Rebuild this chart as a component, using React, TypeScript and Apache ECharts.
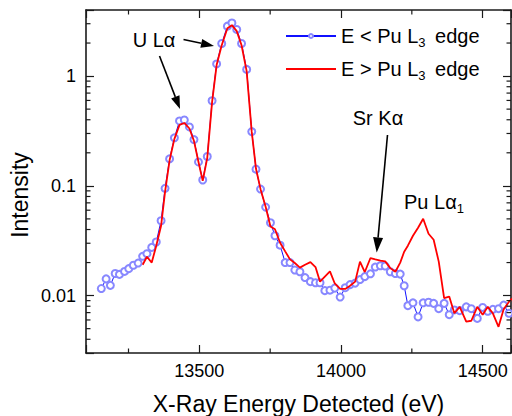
import React, { useEffect, useRef } from "react";
import * as echarts from "echarts";

// ---- data ----
const energy = [
  13154, 13171, 13186, 13203, 13218, 13236, 13251, 13267, 13284, 13300,
  13315, 13332, 13348, 13365, 13379, 13395, 13412, 13430, 13447, 13465,
  13481, 13497, 13512, 13528, 13545, 13561, 13579, 13599, 13615, 13632,
  13649, 13667, 13685, 13700, 13716, 13734, 13751, 13767, 13785, 13803,
  13820, 13837, 13855, 13873, 13892, 13910, 13926, 13943, 13961, 13978,
  13997, 14015, 14032, 14050, 14067, 14084, 14104, 14121, 14139, 14156,
  14174, 14192, 14209, 14223, 14236, 14254, 14272, 14290, 14309, 14327,
  14345, 14364, 14382, 14400, 14419, 14442, 14460, 14481, 14500, 14518,
  14536, 14556, 14574, 14593, 14612,
];

const belowEdge = [
  0.0116, 0.0142, 0.0124, 0.0159, 0.0156, 0.0166, 0.0176, 0.0189, 0.0198, 0.0228,
  0.0241, 0.0275, 0.0308, 0.0481, 0.0949, 0.176, 0.274, 0.39, 0.398, 0.344,
  0.264, 0.165, 0.113, 0.185, 0.596, 1.29, 1.98, 2.85, 3.05, 2.66,
  1.98, 1.15, 0.312, 0.142, 0.0935, 0.064, 0.0461, 0.0351, 0.0288, 0.02,
  0.02, 0.0171, 0.0165, 0.0146, 0.0134, 0.0131, 0.0131, 0.0111, 0.0112, 0.0117,
  0.0097, 0.0118, 0.0126, 0.013, 0.014, 0.0149, 0.0158, 0.0182, 0.0187, 0.0186,
  0.0165, 0.0159, 0.0157, 0.0123, 0.0081, 0.0086, 0.0064, 0.0086, 0.0087, 0.0085,
  0.0076, 0.0085, 0.0067, 0.0074, 0.0073, 0.0079, 0.0076, 0.0062, 0.0078, 0.0072,
  0.0075, 0.0076, 0.0082, 0.0069, null,
];

const aboveEdge = [
  null, null, null, null, null, null, null, null, null, 0.0191,
  0.0226, 0.02, 0.0285, 0.0433, 0.0882, 0.171, 0.268, 0.359, 0.374, 0.333,
  0.257, 0.165, 0.111, 0.18, 0.58, 1.26, 1.91, 2.73, 2.91, 2.57,
  1.91, 1.11, 0.31, 0.143, 0.0933, 0.0644, 0.0427, 0.0402, 0.0303, 0.0253,
  0.0214, 0.0198, 0.018, 0.0191, 0.0202, 0.0182, 0.0134, 0.0149, 0.0166, 0.0129,
  0.0115, 0.0115, 0.0123, 0.0134, 0.0204, 0.0164, 0.022, 0.0214, 0.0208, 0.0205,
  0.0178, 0.0165, 0.02, 0.0251, 0.0285, 0.0351, 0.0415, 0.0501, 0.0366, 0.0323,
  0.0204, 0.0095, 0.0098, 0.0069, 0.0079, 0.0058, 0.0059, 0.0079, 0.0067, 0.0079,
  0.0069, 0.0052, 0.0075, 0.0088, 0.0098,
];

const seriesNames = ["E < Pu L3 edge", "E > Pu L3 edge"];
const X_MIN = 13100;
const X_MAX = 14600;
const Y_MIN = 0.003;
const Y_MAX = 4;
const xMinorTicks = [13250, 13750, 14250];
const yMinorTicks = [
  0.004, 0.005, 0.006, 0.007, 0.008, 0.009,
  0.02, 0.03, 0.04, 0.05, 0.06, 0.07, 0.08, 0.09,
  0.2, 0.3, 0.4, 0.5, 0.6, 0.7, 0.8, 0.9,
  2, 3,
];

const FONT = "Liberation Sans, Arial, Helvetica, sans-serif";
const AXIS_COLOR = "#1a1a1a";
const MAJOR = 8;
const MINOR = 4.5;

function arrow(x1: number, y1: number, x2: number, y2: number, len = 13, half = 4.5) {
  const dx = x2 - x1;
  const dy = y2 - y1;
  const L = Math.hypot(dx, dy);
  const ux = dx / L;
  const uy = dy / L;
  const bx = x2 - ux * len;
  const by = y2 - uy * len;
  const px = -uy * half;
  const py = ux * half;
  return [
    {
      type: "line",
      shape: { x1, y1, x2: bx, y2: by },
      style: { stroke: "#000", lineWidth: 1.6 },
      silent: true,
    },
    {
      type: "polygon",
      shape: { points: [[x2, y2], [bx + px, by + py], [bx - px, by - py]] },
      style: { fill: "#000" },
      silent: true,
    },
  ];
}

export default function App() {
  const ref = useRef<HTMLDivElement>(null);
  useEffect(() => {
    if (!ref.current) return;
    document.body.style.margin = "0";
    const chart = echarts.init(ref.current, undefined, { renderer: "svg" });

    const tickData = [
      ...xMinorTicks.map((v) => [v, Y_MIN, 0]),
      ...yMinorTicks.map((v) => [X_MIN, v, 1]),
    ];

    const xAxisBase = {
      type: "value",
      min: X_MIN,
      max: X_MAX,
      splitNumber: 3,
      splitLine: { show: false },
      axisLine: { show: true, onZero: false, lineStyle: { color: AXIS_COLOR, width: 1.6 } },
      axisTick: { show: true, inside: true, length: MAJOR, lineStyle: { color: AXIS_COLOR, width: 1.2 } },
    };
    const yAxisBase = {
      type: "log",
      logBase: 10,
      min: Y_MIN,
      max: Y_MAX,
      splitLine: { show: false },
      axisLine: { show: true, onZero: false, lineStyle: { color: AXIS_COLOR, width: 1.6 } },
      axisTick: { show: true, inside: true, length: MAJOR, lineStyle: { color: AXIS_COLOR, width: 1.2 } },
    };

    const legendCommon = {
      left: 280,
      itemWidth: 50,
      itemHeight: 5,
      itemGap: 6,
      selectedMode: false,
      formatter: (name: string) => name.replace("L3", "L{sub|3}"),
      textStyle: {
        fontFamily: FONT,
        fontSize: 20,
        color: "#000",
        rich: {
          sub: { fontFamily: FONT, fontSize: 13, color: "#000", padding: [12, 4, 0, 0] },
        },
      },
    };

    chart.setOption({
      animation: false,
      grid: {
        left: 86,
        right: 1,
        top: 10,
        bottom: 63,
        containLabel: false,
        outerBoundsMode: "none",
      },
      xAxis: [
        {
          ...xAxisBase,
          position: "bottom",
          axisLabel: {
            show: true,
            margin: 9,
            fontFamily: FONT,
            fontSize: 18,
            color: "#000",
            formatter: (v: number) => (v % 500 === 0 ? String(v) : ""),
          },
          name: "X-Ray Energy Detected (eV)",
          nameLocation: "middle",
          nameGap: 39,
          nameTextStyle: { fontFamily: FONT, fontSize: 23, color: "#000" },
        },
        { ...xAxisBase, position: "top", axisLabel: { show: false } },
      ],
      yAxis: [
        {
          ...yAxisBase,
          position: "left",
          axisLabel: {
            show: true,
            margin: 10,
            fontFamily: FONT,
            fontSize: 18,
            color: "#000",
            formatter: (v: number) => {
              const l = Math.log10(v);
              if (Math.abs(l - Math.round(l)) > 1e-6) return "";
              return String(Number(Math.pow(10, Math.round(l)).toPrecision(1)));
            },
          },
        },
        { ...yAxisBase, position: "right", axisLabel: { show: false } },
      ],
      legend: [
        { ...legendCommon, data: [seriesNames[0]], top: 21 },
        { ...legendCommon, data: [{ name: seriesNames[1], itemStyle: { opacity: 0 } }], top: 54 },
      ],
      series: [
        {
          name: seriesNames[0],
          type: "line",
          xAxisIndex: 0,
          yAxisIndex: 0,
          data: energy.map((e, i) => [e, belowEdge[i]]),
          symbol: "emptyCircle",
          symbolSize: 7,
          showAllSymbol: true,
          connectNulls: false,
          lineStyle: { color: "#1010ff", width: 1 },
          itemStyle: { color: "#8888ff", borderWidth: 1 },
          z: 2,
        },
        {
          name: seriesNames[1],
          type: "line",
          xAxisIndex: 0,
          yAxisIndex: 0,
          data: energy.map((e, i) => [e, aboveEdge[i]]),
          symbol: "none",
          connectNulls: false,
          lineStyle: { color: "#ff0000", width: 1.8 },
          itemStyle: { color: "#ff0000" },
          z: 3,
        },
        {
          type: "custom",
          xAxisIndex: 0,
          yAxisIndex: 0,
          silent: true,
          data: tickData,
          renderItem: (_params: any, api: any) => {
            const kind = api.value(2);
            const st = { stroke: AXIS_COLOR, lineWidth: 1.2 };
            if (kind === 0) {
              const v = api.value(0);
              const b = api.coord([v, Y_MIN]);
              const t = api.coord([v, Y_MAX]);
              return {
                type: "group",
                children: [
                  { type: "line", shape: { x1: b[0], y1: b[1], x2: b[0], y2: b[1] - MINOR }, style: st },
                  { type: "line", shape: { x1: t[0], y1: t[1], x2: t[0], y2: t[1] + MINOR }, style: st },
                ],
              };
            }
            const v = api.value(1);
            const l = api.coord([X_MIN, v]);
            const r = api.coord([X_MAX, v]);
            return {
              type: "group",
              children: [
                { type: "line", shape: { x1: l[0], y1: l[1], x2: l[0] + MINOR, y2: l[1] }, style: st },
                { type: "line", shape: { x1: r[0], y1: r[1], x2: r[0] - MINOR, y2: r[1] }, style: st },
              ],
            };
          },
          z: 5,
        },
      ],
      graphic: [
        {
          type: "text",
          x: 20,
          y: 195,
          rotation: Math.PI / 2,
          style: {
            text: "Intensity",
            fontFamily: FONT,
            fontSize: 23,
            fill: "#000",
            align: "center",
            verticalAlign: "middle",
          },
        },
        {
          type: "text",
          x: 154,
          y: 40,
          style: {
            text: "U Lα",
            fontFamily: FONT,
            fontSize: 20,
            fill: "#000",
            align: "center",
            verticalAlign: "middle",
          },
        },
        {
          type: "text",
          x: 378,
          y: 118,
          style: {
            text: "Sr Kα",
            fontFamily: FONT,
            fontSize: 20,
            fill: "#000",
            align: "center",
            verticalAlign: "middle",
          },
        },
        {
          type: "text",
          x: 404,
          y: 202,
          style: {
            text: "Pu Lα{sub|1}",
            fontFamily: FONT,
            fontSize: 20,
            fill: "#000",
            align: "left",
            verticalAlign: "middle",
            rich: {
              sub: { fontFamily: FONT, fontSize: 13, fill: "#000", padding: [12, 0, 0, 0] },
            },
          },
        },
        ...arrow(159.5, 56, 180, 109),
        ...arrow(183.5, 39.5, 214, 46),
        ...arrow(387.5, 135, 376.7, 252.5, 15, 5),
      ],
    });

    return () => chart.dispose();
  }, []);

  return <div ref={ref} style={{ width: 512, height: 416 }} />;
}
